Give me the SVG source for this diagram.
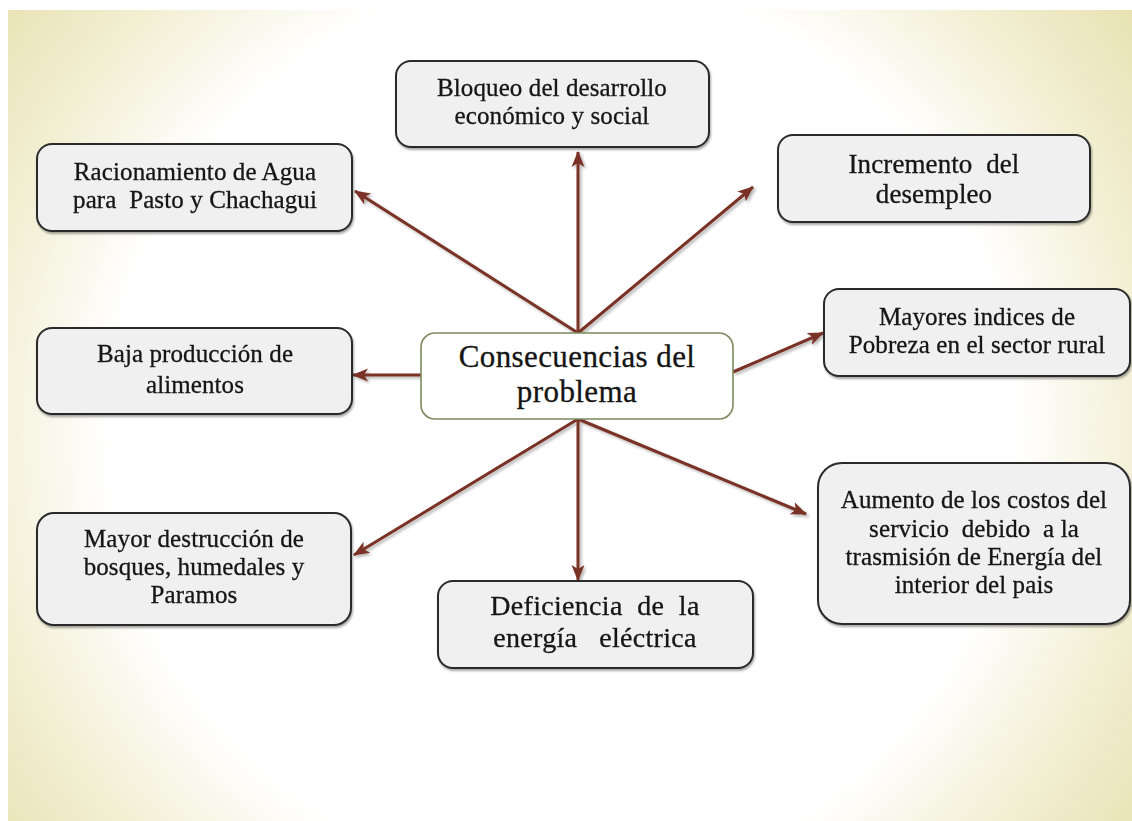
<svg xmlns="http://www.w3.org/2000/svg" width="1132" height="821" viewBox="0 0 1132 821">
  <defs>
    <radialGradient id="bg" gradientUnits="userSpaceOnUse" cx="562" cy="430" r="720">
      <stop offset="0" stop-color="#ffffff"/>
      <stop offset="0.63" stop-color="#ffffff"/>
      <stop offset="0.8" stop-color="#f3f0d6"/>
      <stop offset="1" stop-color="#e7e1b0"/>
    </radialGradient>
    <filter id="shadow" x="-10%" y="-10%" width="130%" height="140%">
      <feGaussianBlur in="SourceAlpha" stdDeviation="1.2"/>
      <feOffset dx="1" dy="1.5" result="b"/>
      <feComponentTransfer><feFuncA type="linear" slope="0.35"/></feComponentTransfer>
      <feMerge><feMergeNode/><feMergeNode in="SourceGraphic"/></feMerge>
    </filter>
    <filter id="lshadow" x="-20%" y="-20%" width="140%" height="140%">
      <feGaussianBlur in="SourceAlpha" stdDeviation="1.5"/>
      <feOffset dx="1.5" dy="2" result="b"/>
      <feComponentTransfer><feFuncA type="linear" slope="0.3"/></feComponentTransfer>
      <feMerge><feMergeNode/><feMergeNode in="SourceGraphic"/></feMerge>
    </filter>
    <marker id="arrow" markerUnits="userSpaceOnUse" markerWidth="16" markerHeight="16" viewBox="0 0 16 16" refX="15" refY="8" orient="auto">
      <path d="M0,1.5 L16,8 L0,14.5 L4,8 Z" fill="#7a3326"/>
    </marker>
    <style>
      .box { fill: #f0f0f0; stroke: #2b2b2b; stroke-width: 2; }
      .center { fill: #ffffff; stroke: #7b8a5c; stroke-width: 1.6; }
      .lbl { font-family: "Liberation Serif", "Times New Roman", serif; font-size: 25px; letter-spacing: 0.1px; fill: #141414; stroke: #141414; stroke-width: 0.3px; text-anchor: middle; white-space: pre; }
      .big { font-size: 27px; }
      .def { font-size: 28px; letter-spacing: 0.3px; }
      .ctr { font-size: 31px; letter-spacing: 0.4px; }
      .conn { stroke: #7a3326; stroke-width: 3; fill: none; marker-end: url(#arrow); }
    </style>
  </defs>

  <rect x="0" y="0" width="1132" height="821" fill="#ffffff"/>
  <rect x="8" y="10" width="1124" height="811" fill="url(#bg)"/>

  <g id="connectors" filter="url(#lshadow)">
    <line class="conn" x1="578" y1="333" x2="578" y2="152"/>
    <line class="conn" x1="578" y1="333" x2="753" y2="187"/>
    <line class="conn" x1="578" y1="333" x2="355" y2="191"/>
    <line class="conn" x1="421" y1="375" x2="353" y2="375"/>
    <line class="conn" x1="733" y1="372" x2="823" y2="333"/>
    <line class="conn" x1="578" y1="419" x2="354" y2="555"/>
    <line class="conn" x1="578" y1="419" x2="578" y2="580"/>
    <line class="conn" x1="578" y1="419" x2="806" y2="514"/>
  </g>

  <g id="node-bloqueo" filter="url(#shadow)">
    <rect class="box" x="396" y="61" width="313" height="86" rx="15"/>
    <text class="lbl" x="552" y="96">Bloqueo del desarrollo</text>
    <text class="lbl" x="552" y="124">económico y social</text>
  </g>

  <g id="node-racionamiento" filter="url(#shadow)">
    <rect class="box" x="37" y="144" width="315" height="87" rx="15"/>
    <text class="lbl" x="195" y="180">Racionamiento de Agua</text>
    <text class="lbl" x="195" y="208">para  Pasto y Chachagui</text>
  </g>

  <g id="node-incremento" filter="url(#shadow)">
    <rect class="box" x="778" y="135" width="312" height="87" rx="15"/>
    <text class="lbl big" x="934" y="173">Incremento  del</text>
    <text class="lbl big" x="934" y="203">desempleo</text>
  </g>

  <g id="node-baja" filter="url(#shadow)">
    <rect class="box" x="37" y="328" width="315" height="86" rx="15"/>
    <text class="lbl" x="195" y="362">Baja producción de</text>
    <text class="lbl" x="195" y="393">alimentos</text>
  </g>

  <g id="node-centro">
    <rect class="center" x="421" y="333" width="312" height="86" rx="14"/>
    <text class="lbl ctr" x="577" y="367">Consecuencias del</text>
    <text class="lbl ctr" x="577" y="402">problema</text>
  </g>

  <g id="node-mayores" filter="url(#shadow)">
    <rect class="box" x="824" y="289" width="306" height="87" rx="15"/>
    <text class="lbl" x="977" y="325">Mayores indices de</text>
    <text class="lbl" x="977" y="353">Pobreza en el sector rural</text>
  </g>

  <g id="node-destruccion" filter="url(#shadow)">
    <rect class="box" x="37" y="513" width="314" height="112" rx="17"/>
    <text class="lbl" x="194" y="547">Mayor destrucción de</text>
    <text class="lbl" x="194" y="575">bosques, humedales y</text>
    <text class="lbl" x="194" y="603">Paramos</text>
  </g>

  <g id="node-deficiencia" filter="url(#shadow)">
    <rect class="box" x="438" y="581" width="315" height="87" rx="15"/>
    <text class="lbl def" x="595" y="615">Deficiencia  de  la</text>
    <text class="lbl def" x="595" y="647">energía   eléctrica</text>
  </g>

  <g id="node-aumento" filter="url(#shadow)">
    <rect class="box" x="818" y="463" width="312" height="161" rx="24"/>
    <text class="lbl" x="974" y="508">Aumento de los costos del</text>
    <text class="lbl" x="974" y="537">servicio  debido  a la</text>
    <text class="lbl" x="974" y="565">trasmisión de Energía del</text>
    <text class="lbl" x="974" y="593">interior del pais</text>
  </g>
</svg>
